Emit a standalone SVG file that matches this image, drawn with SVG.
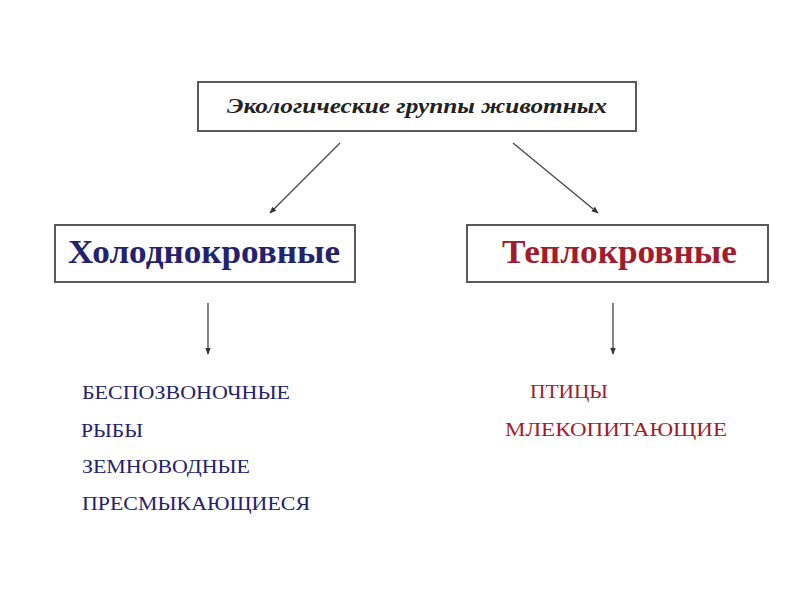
<svg xmlns="http://www.w3.org/2000/svg" width="800" height="600" viewBox="0 0 800 600">
<style>
.box{fill:#fff;stroke:#5a5a5a;stroke-width:2}
.conn line{stroke:#444;stroke-width:1.3}
.serif{font-family:"Liberation Serif","Times New Roman",serif}
.head{font-weight:bold;font-size:33px}
.item{font-size:19px}
.cold{fill:#22226e}
.warm{fill:#a11c2c}
</style>
<defs>
<marker id="ah" viewBox="0 0 10 10" refX="9" refY="5" markerWidth="7" markerHeight="7" orient="auto" markerUnits="userSpaceOnUse">
<path d="M0,1 L10,5 L0,9 z" fill="#333"/>
</marker>
</defs>
<rect width="800" height="600" fill="#fff"/>
<g id="root">
<rect class="box" x="198" y="82" width="438" height="49"/>
<text class="serif" x="227" y="113" font-size="22" font-style="italic" font-weight="bold" fill="#222" textLength="380" lengthAdjust="spacingAndGlyphs">Экологические группы животных</text>
</g>
<g id="cold">
<rect class="box" x="55" y="225" width="300" height="57"/>
<text class="serif head cold" x="68" y="263" textLength="272" lengthAdjust="spacingAndGlyphs">Холоднокровные</text>
</g>
<g id="warm">
<rect class="box" x="467" y="225" width="301" height="57"/>
<text class="serif head warm" x="502" y="263" textLength="235" lengthAdjust="spacingAndGlyphs">Теплокровные</text>
</g>
<g id="cold-list" class="serif item cold">
<text x="82" y="399" textLength="208" lengthAdjust="spacingAndGlyphs">БЕСПОЗВОНОЧНЫЕ</text>
<text x="81" y="437" textLength="62" lengthAdjust="spacingAndGlyphs">РЫБЫ</text>
<text x="82" y="473" textLength="168" lengthAdjust="spacingAndGlyphs">ЗЕМНОВОДНЫЕ</text>
<text x="82" y="510" textLength="228" lengthAdjust="spacingAndGlyphs">ПРЕСМЫКАЮЩИЕСЯ</text>
</g>
<g id="warm-list" class="serif item warm">
<text x="530" y="398" textLength="78" lengthAdjust="spacingAndGlyphs">ПТИЦЫ</text>
<text x="505" y="436" textLength="222" lengthAdjust="spacingAndGlyphs">МЛЕКОПИТАЮЩИЕ</text>
</g>
<g class="conn">
<line x1="340" y1="143" x2="270" y2="213" marker-end="url(#ah)"/>
<line x1="513" y1="143" x2="598" y2="213" marker-end="url(#ah)"/>
<line x1="208" y1="303" x2="208" y2="354" marker-end="url(#ah)"/>
<line x1="613" y1="303" x2="613" y2="354" marker-end="url(#ah)"/>
</g>
</svg>
